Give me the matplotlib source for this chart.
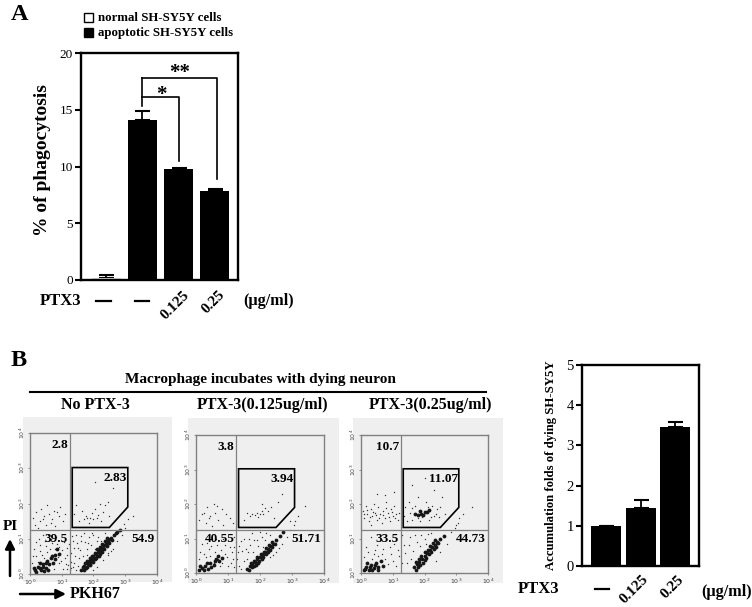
import numpy as np
import matplotlib
matplotlib.use('Agg')
import matplotlib.pyplot as plt
from matplotlib.patches import Rectangle, Polygon

W, H = 752, 607
plt.rcParams['font.family'] = ['Liberation Serif', 'DejaVu Serif']

# panel A
a_values = [0.2, 14.1, 9.8, 7.85]
a_errors = [0.2, 0.75, 0.05, 0.2]
a_colors = ['#d8d8d8', 'black', 'black', 'black']
a_yticks = [0, 5, 10, 15, 20]

# panel B bars
b_values = [1.0, 1.45, 3.47]
b_errors = [0.0, 0.18, 0.11]
b_yticks = [0, 1, 2, 3, 4, 5]

# flow panels, in decades (log10 of the channel)
titles = ['No PTX-3', 'PTX-3(0.125ug/ml)', 'PTX-3(0.25ug/ml)']
quadrants = [['2.8', '2.83', '39.5', '54.9'],
             ['3.8', '3.94', '40.55', '51.71'],
             ['10.7', '11.07', '33.5', '44.73']]

p1_sparse = [(0.1,1.6),(0.2,1.75),(0.3,1.5),(0.35,1.85),(0.45,1.65),(0.5,1.4),(0.55,1.95),(0.6,1.7),(0.7,1.55),
    (0.75,1.8),(0.8,1.35),(0.9,1.65),(0.95,1.9),(1.05,1.5),(1.1,1.7),(0.15,1.4),(0.25,1.3),(0.4,1.55),(0.65,1.45),(0.85,1.75),
    (1.4,1.7),(1.45,1.95),(1.55,1.5),(1.65,1.8),(1.7,1.55),(1.75,1.65),(1.8,1.6),(1.85,1.45),(1.9,1.6),(1.95,1.72),(2.0,1.55),
    (2.05,1.85),(2.1,1.6),(2.15,1.68),(2.2,2.0),(2.25,1.5),(2.3,1.75),(2.35,1.95),(2.45,2.05),(2.5,1.65),(2.05,2.6),(2.6,2.45),
    (3.25,1.65),(3.1,1.55),(2.95,1.42),
    (0.1,0.5),(0.2,0.9),(0.25,0.35),(0.3,0.65),(0.4,1.1),(0.45,0.45),(0.5,0.8),(0.6,0.25),(0.65,1.0),(0.7,0.55),(0.75,0.15),
    (0.85,0.85),(0.9,0.3),(0.95,0.6),(1.0,0.95),(1.05,0.15),(1.1,0.45),(1.15,0.75),(1.2,0.25),(1.3,0.6),(1.35,0.95),(1.4,0.3),
    (1.45,1.1),(1.5,0.75),(1.55,0.45),(1.6,0.95),(1.7,1.15),(1.8,0.7),(1.85,1.05),(2.0,1.1),(2.1,0.95),(1.25,0.1),(1.35,0.2),
    (2.3,0.4),(2.45,0.6),(2.6,0.7),(2.75,0.95),(2.9,1.1),(3.0,1.3),(2.1,0.2),(2.0,0.1),
    (0.05,0.3),(0.12,0.72),(0.18,0.5),(0.28,1.0),(0.33,0.82),(0.38,0.55),(0.48,0.95),(0.52,0.62),(0.58,1.12),(0.62,0.7),(0.68,0.88),
    (0.78,0.72),(0.82,1.05),(0.88,0.48),(0.92,0.78),(0.98,0.38),(1.02,0.68),(1.08,0.92),(1.12,0.28),(1.18,0.55),(1.22,0.85),(1.28,0.35),
    (1.32,1.08),(1.38,0.75),(1.42,0.5),(1.48,0.88),(1.52,0.22),(1.58,0.68),(1.62,1.08),(1.68,0.52),(1.72,0.92),(1.78,0.55),(1.82,0.88),
    (1.92,0.82),(1.96,1.15),(2.05,0.72),(2.15,1.05),(2.25,0.95),(2.35,1.15),(2.45,0.55),(2.55,0.65),(1.15,0.15),(1.3,0.18),(1.45,0.12)]
p1_dense = [(0.15,0.1),(0.25,0.2),(0.35,0.12),(0.4,0.28),(0.5,0.18),(0.55,0.38),(0.65,0.45),(0.72,0.32),(0.8,0.55),(0.85,0.7),
    (0.3,0.3),(0.45,0.08),(0.2,0.06),(0.3,0.16),(0.4,0.2),(0.5,0.3),(0.6,0.28),(0.7,0.5),(0.12,0.18),(0.58,0.12),(0.78,0.42),(0.9,0.58),
    (1.62,0.12),(1.7,0.22),(1.78,0.3),(1.86,0.36),(1.94,0.42),(2.0,0.5),(2.08,0.56),(2.15,0.63),(2.22,0.7),
    (2.3,0.78),(2.38,0.86),(2.46,0.93),(2.55,1.02),(2.65,1.1),(2.75,1.2),(1.75,0.18),(1.9,0.28),(2.05,0.42),(2.2,0.58),
    (1.66,0.2),(1.72,0.3),(1.8,0.38),(1.88,0.46),(1.96,0.52),(2.04,0.6),(2.12,0.7),(2.2,0.78),(2.28,0.86),(2.36,0.95),(2.44,1.02),
    (1.7,0.12),(1.8,0.2),(1.88,0.26),(1.98,0.34),(2.08,0.44),(2.16,0.52),(2.26,0.62),(2.34,0.72),(2.42,0.8),(2.5,0.88),(2.58,0.96),
    (1.82,0.28),(1.92,0.36),(2.02,0.46),(2.1,0.52),(2.18,0.64),(2.26,0.72),(2.34,0.82),(2.42,0.9),(2.52,1.0),(2.7,1.15),(2.82,1.26)]

p2_sparse = [(0.1,1.55),(0.2,1.7),(0.3,1.45),(0.35,1.9),(0.45,1.65),(0.5,1.35),(0.55,2.0),(0.6,1.75),(0.7,1.55),(0.8,1.85),
    (0.85,1.4),(0.95,1.7),(1.05,1.6),(1.15,1.45),(0.25,1.75),(0.65,1.95),(0.4,1.6),
    (1.5,1.55),(1.6,1.75),(1.7,1.65),(1.75,1.72),(1.85,1.68),(1.9,1.75),(1.95,1.62),(2.0,1.72),(2.05,1.8),(2.1,1.7),(2.15,1.88),
    (2.25,1.8),(2.35,1.9),(2.45,1.6),(2.55,2.05),(2.7,2.3),(2.05,2.0),(3.4,1.95),(2.95,1.5),(3.1,1.5),(3.2,1.65),
    (0.2,0.85),(0.3,0.45),(0.4,0.7),(0.5,1.1),(0.55,0.3),(0.65,0.8),(0.75,0.2),(0.85,1.0),(0.9,0.55),(1.0,0.2),(1.05,0.75),
    (1.15,0.4),(1.2,1.05),(1.35,0.2),(1.45,0.65),(1.5,1.0),(1.6,0.4),(1.7,0.8),(1.75,1.15),(1.9,0.95),(2.0,1.2),(2.1,0.75),
    (2.3,0.45),(2.5,0.6),(2.7,0.85),(2.85,1.05),(2.95,1.25),(3.05,1.4),(2.2,1.15),(1.3,0.6),(1.25,0.9),
    (0.08,0.4),(0.14,0.62),(0.24,0.55),(0.34,0.88),(0.44,0.5),(0.48,0.78),(0.58,0.62),(0.62,0.98),(0.7,0.42),(0.78,0.68),(0.82,0.3),
    (0.92,0.82),(0.98,0.45),(1.08,0.3),(1.12,0.62),(1.18,0.18),(1.28,0.42),(1.34,0.78),(1.4,0.12),(1.5,0.35),(1.55,0.7),(1.62,0.62),
    (1.66,1.0),(1.78,0.62),(1.82,0.95),(1.95,0.78),(2.05,1.05),(2.15,0.95),(2.3,1.1),(2.42,0.52),(2.6,0.72),(1.42,0.92),(1.2,0.75)]
p2_dense = [(0.08,0.08),(0.18,0.14),(0.28,0.2),(0.38,0.12),(0.45,0.28),(0.55,0.22),(0.62,0.42),(0.72,0.35),(0.25,0.08),
    (0.12,0.2),(0.34,0.28),(0.48,0.16),(0.58,0.36),(0.68,0.5),(0.8,0.44),
    (1.6,0.12),(1.68,0.2),(1.76,0.27),(1.84,0.33),(1.92,0.4),(2.0,0.47),(2.08,0.54),(2.16,0.62),(2.24,0.7),(2.32,0.78),(2.4,0.85),
    (2.5,0.95),(2.62,1.06),(1.8,0.2),(1.95,0.3),(2.1,0.45),(2.25,0.6),
    (1.66,0.1),(1.74,0.16),(1.86,0.24),(1.98,0.36),(2.06,0.42),(2.18,0.54),(2.3,0.66),(2.38,0.76),(2.46,0.84),
    (1.72,0.28),(1.82,0.36),(1.9,0.46),(2.02,0.54),(2.12,0.62),(2.2,0.72),(2.28,0.82),(2.36,0.9),(2.72,1.18)]

p3_sparse = [(0.05,1.8),(0.1,1.6),(0.15,1.95),(0.2,1.7),(0.25,1.5),(0.3,1.85),(0.35,1.65),(0.4,2.0),(0.45,1.75),(0.5,1.55),
    (0.55,1.9),(0.6,1.7),(0.65,1.45),(0.7,1.8),(0.75,1.6),(0.8,2.05),(0.85,1.75),(0.9,1.5),(0.95,1.85),(1.0,1.65),(1.05,1.95),
    (1.1,1.7),(1.15,1.55),(1.2,1.75),(0.5,2.3),(0.75,2.25),(1.05,2.35),(0.3,1.4),
    (0.08,1.72),(0.18,1.82),(0.28,1.62),(0.38,1.78),(0.48,1.68),(0.58,1.58),(0.68,1.68),(0.78,1.88),(0.88,1.62),(0.98,1.78),(1.08,1.58),
    (1.35,1.65),(1.4,1.9),(1.45,1.5),(1.5,2.05),(1.55,1.75),(1.6,1.55),(1.7,1.95),(1.8,2.2),(1.85,1.5),(2.05,2.05),(2.15,1.55),
    (2.25,1.95),(2.3,1.65),(2.4,1.85),(2.55,2.2),(2.65,1.7),(2.3,2.4),(1.6,2.55),(2.0,2.75),(3.1,1.6),(3.5,1.9),(3.0,1.4),(3.2,1.7),
    (1.62,1.88),(1.78,1.58),(1.92,1.62),(2.1,1.92),(2.2,1.62),(2.35,1.72),(2.5,1.9),(2.45,1.62),
    (0.15,0.75),(0.3,1.05),(0.4,0.55),(0.5,0.8),(0.6,0.35),(0.7,0.7),(0.8,1.0),(0.85,0.25),(0.95,0.55),(1.05,0.85),(1.1,0.2),
    (1.2,0.5),(1.35,0.8),(1.45,0.3),(1.55,1.05),(1.65,0.65),(1.75,0.9),(1.9,1.1),(2.05,0.85),(2.2,1.15),(2.35,0.35),(2.5,0.6),
    (2.7,0.85),(2.85,1.2),(2.95,1.3),(3.05,1.45),(1.3,1.1),
    (0.1,0.45),(0.22,0.6),(0.35,0.42),(0.45,0.68),(0.55,0.5),(0.65,0.55),(0.75,0.4),(0.9,0.75),(1.0,0.35),(1.15,0.68),(1.28,0.3),
    (1.4,0.58),(1.5,0.82),(1.58,0.42),(1.7,1.1),(1.85,0.78),(2.0,1.0),(2.12,1.12)]
p3_dense = [(0.08,0.08),(0.16,0.18),(0.24,0.1),(0.32,0.24),(0.4,0.14),(0.48,0.3),(0.55,0.18),(0.62,0.34),(0.2,0.28),
    (0.12,0.12),(0.28,0.16),(0.36,0.08),(0.44,0.22),(0.52,0.1),(0.7,0.2),
    (1.7,1.72),(1.8,1.68),(1.9,1.72),(2.0,1.78),(2.08,1.76),(1.86,1.8),(1.96,1.68),(2.14,1.84),
    (1.68,0.16),(1.76,0.26),(1.84,0.33),(1.92,0.42),(2.0,0.5),(2.08,0.58),(2.16,0.66),(2.24,0.74),(2.32,0.82),(2.4,0.9),(2.5,1.0),
    (1.85,0.22),(2.0,0.38),(2.15,0.54),(2.3,0.7),(1.72,0.1),(1.8,0.16),(1.94,0.3),(2.06,0.44),(2.22,0.6),(2.36,0.76),(2.44,0.86),
    (1.74,0.32),(1.82,0.42),(1.9,0.5),(2.02,0.6),(2.1,0.68),(2.18,0.78),(2.26,0.86),(2.34,0.96),(2.6,1.08)]

sparse_sets = [p1_sparse, p2_sparse, p3_sparse]
dense_sets = [p1_dense, p2_dense, p3_dense]


def px_axes(x0, y0, x1, y1, **kw):
    # axes from picture pixels, y counted from the top
    return fig.add_axes([x0 / W, 1 - y1 / H, (x1 - x0) / W, (y1 - y0) / H], **kw)


def bar_panel(ax, values, errors, colors, yticks, width, xlim, cap, tick_size):
    xs = np.arange(len(values))
    ax.bar(xs, values, width=width, color=colors, zorder=2)
    ax.errorbar(xs, values, yerr=[np.zeros(len(errors)), errors], fmt='none',
                ecolor='black', elinewidth=1.3, capsize=cap, capthick=1.5, zorder=1)
    ax.set_xlim(xlim)
    ax.set_ylim(yticks[0], yticks[-1])
    ax.set_xticks([])
    ax.set_yticks(yticks)
    ax.tick_params(axis='y', width=1.5, length=4, labelsize=tick_size, pad=2)
    for s in ax.spines.values():
        s.set_linewidth(1.7)


fig = plt.figure(figsize=(W / 100, H / 100), dpi=100)

ax_a = px_axes(81, 53, 238, 280)
bar_panel(ax_a, a_values, a_errors, a_colors, a_yticks, 0.8, (-0.69, 3.64), 5.4, 9.5)
ax_a.set_ylabel('% of phagocytosis', fontsize=14, fontweight='bold', labelpad=6, y=0.53)
ax_a.plot([1, 1], [15.3, 17.8], color='black', lw=1.2)
ax_a.plot([1, 3.05, 3.05], [17.8, 17.8, 8.9], color='black', lw=1.2)
ax_a.plot([1, 2.02, 2.02], [16.1, 16.1, 10.5], color='black', lw=1.2)
ax_a.text(1.53, 16.3, '*', ha='center', va='center', fontsize=15, fontweight='bold')
ax_a.text(2.02, 18.2, '**', ha='center', va='center', fontsize=15, fontweight='bold')

ax_b = px_axes(582, 365, 699, 566)
bar_panel(ax_b, b_values, b_errors, ['black'] * 3, b_yticks, 0.86, (-0.69, 2.68), 5.4, 10.5)
ax_b.set_ylabel('Accumulation folds of dying SH-SY5Y', fontsize=9.2, fontweight='bold', labelpad=7)

# flow panels
boxes = [(30, 433, 157, 574), (196, 435, 324, 573), (361, 435, 488, 573)]
backs = [(23, 417, 172, 582), (188, 418, 339, 583), (353, 418, 503, 583)]
for i, (x0, y0, x1, y1) in enumerate(boxes):
    bx0, by0, bx1, by1 = backs[i]
    back = px_axes(bx0, by0, bx1, by1)
    back.set_facecolor('#efefef')
    back.set_xticks([])
    back.set_yticks([])
    for s in back.spines.values():
        s.set_visible(False)

    ax = px_axes(x0, y0, x1, y1)
    ax.set_facecolor('#efefef')
    ax.set_xlim(0, 4)
    ax.set_ylim(0, 4)
    sp = np.array(sparse_sets[i])
    de = np.array(dense_sets[i])
    ax.scatter(sp[:, 0], sp[:, 1], s=1.0, color='#333333', linewidths=0, zorder=2)
    ax.scatter(de[:, 0], de[:, 1], s=7.5, color='#161616', linewidths=0, zorder=2)
    ax.axvline(1.26, color='#808080', lw=0.9, zorder=3)
    ax.axhline(1.25, color='#808080', lw=0.9, zorder=3)
    for s in ax.spines.values():
        s.set_color('#808080')
        s.set_linewidth(1.0)
    ax.set_xticks(range(5))
    ax.set_yticks(range(5))
    ax.set_xticklabels(['$10^{%d}$' % k for k in range(5)], fontsize=4.5, color='#444444')
    ax.set_yticklabels(['$10^{%d}$' % k for k in range(5)], fontsize=4.5, color='#444444', rotation=90, va='center')
    ax.tick_params(length=1.5, width=0.5, pad=1, color='#666666')

    # gate, drawn in the same decade units
    gx0, gx1, gx2 = 1.33, 3.08, 2.5
    ax.add_patch(Polygon([(gx0, 1.32), (gx0, 3.02), (gx1, 3.02), (gx1, 1.9), (gx2, 1.32)],
                         closed=True, fill=False, edgecolor='black', lw=1.2, zorder=4))
    q = quadrants[i]
    ax.text(1.2, 3.65, q[0], ha='right', va='center', fontsize=9.5, fontweight='bold', zorder=5)
    ax.text(3.05, 2.72, q[1], ha='right', va='center', fontsize=9.5, fontweight='bold', zorder=5)
    ax.text(1.2, 1.0, q[2], ha='right', va='center', fontsize=9.5, fontweight='bold', zorder=5)
    ax.text(3.92, 1.0, q[3], ha='right', va='center', fontsize=9.5, fontweight='bold', zorder=5)

# overlay in pixels for labels and arrows
ov = fig.add_axes([0, 0, 1, 1], zorder=10)
ov.set_xlim(0, W)
ov.set_ylim(H, 0)
ov.axis('off')
ov.patch.set_alpha(0)


def label(x, y, s, size, ha='left', rot=0, va='center'):
    ov.text(x, y, s, fontsize=size, fontweight='bold', ha=ha, va=va, rotation=rot,
            rotation_mode='anchor')


label(11, 15, 'A', 17.5)
label(11, 360, 'B', 17.5)
ov.add_patch(Rectangle((84, 13), 9, 9, facecolor='white', edgecolor='black', lw=1))
ov.add_patch(Rectangle((84, 28), 9, 9, facecolor='black', edgecolor='black', lw=1))
label(98, 18, 'normal SH-SY5Y cells', 9.3)
label(98, 33, 'apoptotic SH-SY5Y cells', 9.3)

label(40, 301, 'PTX3', 12)
for x0, x1 in [(96, 111), (135, 149)]:
    ov.plot([x0, x1], [301, 301], color='black', lw=1.6)
label(183, 289, '0.125', 11, ha='right', rot=45, va='top')
label(218, 288, '0.25', 11, ha='right', rot=45, va='top')
label(243, 301, '(µg/ml)', 11.6)

label(260, 379, 'Macrophage incubates with dying neuron', 11, ha='center')
ov.plot([30, 486], [392, 392], color='black', lw=1.5)
for cx, t in zip([95, 263, 430], titles):
    label(cx, 405, t, 11.5, ha='center')

label(3, 527, 'PI', 11)
ov.annotate('', xy=(10, 539), xytext=(10, 576),
            arrowprops=dict(arrowstyle='-|>', color='black', lw=1.8, mutation_scale=14, shrinkA=0, shrinkB=0))
ov.annotate('', xy=(66, 594), xytext=(20, 594),
            arrowprops=dict(arrowstyle='-|>', color='black', lw=1.8, mutation_scale=14, shrinkA=0, shrinkB=0))
label(70, 594, 'PKH67', 11.5)

label(518, 589, 'PTX3', 12)
ov.plot([595, 609], [589, 589], color='black', lw=1.6)
label(642, 573, '0.125', 11, ha='right', rot=45, va='top')
label(677, 573, '0.25', 11, ha='right', rot=45, va='top')
label(701, 592, '(µg/ml)', 11.6)

fig.savefig('out.png', dpi=100)
